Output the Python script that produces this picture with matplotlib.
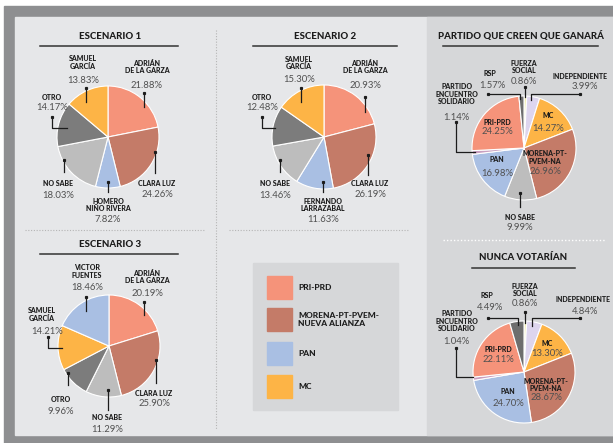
import matplotlib.pyplot as plt
from matplotlib.patches import Rectangle

# Datos
esc1_nombres = ["ADRIÁN\nDE LA GARZA", "CLARA LUZ", "HOMERO\nNIÑO RIVERA", "NO SABE", "OTRO", "SAMUEL\nGARCÍA"]
esc1_valores = [21.88, 24.26, 7.82, 18.03, 14.17, 13.83]

esc2_nombres = ["ADRIÁN\nDE LA GARZA", "CLARA LUZ", "FERNANDO\nLARRAZABAL", "NO SABE", "OTRO", "SAMUEL\nGARCÍA"]
esc2_valores = [20.93, 26.19, 11.63, 13.46, 12.48, 15.30]

esc3_nombres = ["ADRIÁN\nDE LA GARZA", "CLARA LUZ", "NO SABE", "OTRO", "SAMUEL\nGARCÍA", "VICTOR\nFUENTES"]
esc3_valores = [20.19, 25.90, 11.29, 9.96, 14.21, 18.46]

ganara_nombres = ["FUERZA\nSOCIAL", "INDEPENDIENTE", "MC", "MORENA-PT-\nPVEM-NA", "NO SABE", "PAN",
                  "PARTIDO\nENCUENTRO\nSOLIDARIO", "PRI-PRD", "RSP"]
ganara_valores = [0.86, 3.99, 14.27, 26.96, 9.99, 16.98, 1.14, 24.25, 1.57]

nunca_nombres = ["FUERZA\nSOCIAL", "INDEPENDIENTE", "MC", "MORENA-PT-\nPVEM-NA", "PAN",
                 "PARTIDO\nENCUENTRO\nSOLIDARIO", "PRI-PRD", "RSP"]
nunca_valores = [0.86, 4.84, 13.30, 28.67, 24.70, 1.04, 22.11, 4.49]

leyenda_nombres = ["PRI-PRD", "MORENA-PT-PVEM-\nNUEVA ALIANZA", "PAN", "MC"]

# Colores
SALMON = "#f5937a"
CAFE = "#c47b68"
AZUL = "#a9bfe3"
NARANJA = "#fdb446"
GRIS_CLARO = "#bdbdbd"
GRIS_OSC = "#7c7c7c"
AMARILLO = "#f2efb5"
LAVANDA = "#ddd5ee"
ROSA = "#c9a0c0"
GRIS_RSP = "#6e6e6e"

esc1_colores = [SALMON, CAFE, AZUL, GRIS_CLARO, GRIS_OSC, NARANJA]
esc2_colores = [SALMON, CAFE, AZUL, GRIS_CLARO, GRIS_OSC, NARANJA]
esc3_colores = [SALMON, CAFE, GRIS_CLARO, GRIS_OSC, NARANJA, AZUL]
ganara_colores = [AMARILLO, LAVANDA, NARANJA, CAFE, GRIS_CLARO, AZUL, ROSA, SALMON, GRIS_RSP]
nunca_colores = [AMARILLO, LAVANDA, NARANJA, CAFE, AZUL, ROSA, SALMON, GRIS_RSP]
leyenda_colores = [SALMON, CAFE, AZUL, NARANJA]

W, H = 613, 443
fig = plt.figure(figsize=(W / 100, H / 100), dpi=100, facecolor="white")

FUENTE = "Lato"
NEGRO = "#1c1c1c"
GRIS_TXT = "#505050"

# Fondo
bg = fig.add_axes([0, 0, 1, 1], zorder=0)
bg.set_xlim(0, W)
bg.set_ylim(H, 0)
bg.axis("off")
bg.add_patch(Rectangle((4, 6), W - 4, H - 6, color="#8e8f91"))
bg.add_patch(Rectangle((15, 17), W - 15, 418, color="#e6e7e9"))
bg.add_patch(Rectangle((427, 17), W - 427, 418, color="#d6d7d9"))
bg.plot([216, 216], [30, 430], ls=(0, (1, 1.5)), color="#b5b5b5", lw=0.8)
bg.plot([25, 205], [230, 230], ls=(0, (1, 1.5)), color="#b5b5b5", lw=0.8)
bg.plot([229, 408], [230, 230], ls=(0, (1, 1.5)), color="#b5b5b5", lw=0.8)
bg.plot([443, 605], [240, 240], ls=(0, (1, 1.5)), color="white", lw=1)


def pastel(cx, cy, r, valores, colores):
    ax = fig.add_axes([(cx - r) / W, 1 - (cy + r) / H, 2 * r / W, 2 * r / H], zorder=1)
    ax.pie(valores, colors=colores, startangle=90, counterclock=False,
           wedgeprops=dict(edgecolor="white", linewidth=0.8))
    ax.set_xlim(-1, 1)
    ax.set_ylim(-1, 1)
    return ax


pastel(108, 137, 51, esc1_valores, esc1_colores)
pastel(324, 137, 52, esc2_valores, esc2_colores)
pastel(109, 346, 51, esc3_valores, esc3_colores)
pastel(524, 148, 52, ganara_valores, ganara_colores)
pastel(524, 372, 51, nunca_valores, nunca_colores)

# Capa de textos y líneas
ov = fig.add_axes([0, 0, 1, 1], zorder=2)
ov.set_xlim(0, W)
ov.set_ylim(H, 0)
ov.axis("off")


def titulo(txt, x, y, x0, x1):
    ov.text(x, y, txt, ha="center", va="center", fontsize=6.9, fontweight="black",
            family=FUENTE, color=NEGRO)
    ov.plot([x0, x1], [y + 10, y + 10], color="#333333", lw=1.1)


titulo("ESCENARIO 1", 110, 36, 40, 178)
titulo("ESCENARIO 2", 325, 36, 253, 397)
titulo("ESCENARIO 3", 110, 244, 40, 178)
titulo("PARTIDO QUE CREEN QUE GANARÁ", 521, 36, 443, 598)
titulo("NUNCA VOTARÍAN", 523, 258, 472, 575)


def etiquetas(nombres, valores, posiciones, guias):
    for nom, val, (x, yn, yp, xp), guia in zip(nombres, valores, posiciones, guias):
        ov.text(x, yn, nom, ha="center", va="center", fontsize=5, fontweight="black",
                family=FUENTE, color=NEGRO, linespacing=1.05)
        ov.text(xp, yp, f"{val:.2f}%", ha="center", va="center", fontsize=6.8,
                family=FUENTE, color=GRIS_TXT)
        if guia:
            xs, ys = zip(*guia)
            ov.plot(xs, ys, color=NEGRO, lw=0.9)
            ov.plot(xs[0], ys[0], "s", color=NEGRO, ms=1.3)


# (x nombre, y nombre, y porcentaje, x porcentaje)
esc1_pos = [(147, 67, 85, 147), (157, 183, 194, 157), (108, 205, 219, 108),
            (58, 183, 195, 58), (52, 97, 107, 52), (83, 62.5, 80, 83)]
esc1_guias = [[(144, 93), (144, 107)], [(155, 152), (155, 173)], [(108, 182), (108, 192)],
              [(64, 160), (64, 172)], [(52, 117), (52, 128), (67, 128)], [(86, 88), (86, 102)]]
etiquetas(esc1_nombres, esc1_valores, esc1_pos, esc1_guias)

esc2_pos = [(365, 67, 85, 365), (370, 183, 194, 370), (323, 205, 219, 323),
            (275, 183, 195, 275), (262, 97, 107, 262), (299, 63, 79, 299)]
esc2_guias = [[(365, 97), (365, 112)], [(368, 155), (368, 175)], [(323, 182), (323, 192)],
              [(280, 160), (280, 172)], [(262, 117), (262, 128), (275, 128)], [(301, 88), (301, 102)]]
etiquetas(esc2_nombres, esc2_valores, esc2_pos, esc2_guias)

esc3_pos = [(147, 277, 294, 147), (154, 393, 403, 154), (107, 417, 429, 107),
            (61, 399, 411, 61), (42, 314.5, 331, 47), (87, 271.5, 287, 87)]
esc3_guias = [[(144, 302), (144, 315)], [(156, 360), (156, 383)], [(108, 390), (108, 410)],
              [(68, 373), (68, 385)], [(48, 337), (48, 348), (62, 348)], [(86, 297), (86, 311)]]
etiquetas(esc3_nombres, esc3_valores, esc3_pos, esc3_guias)

ganara_pos = [(524, 67, 81, 524), (580, 76, 86, 585), (548, 115, 128, 548),
              (545, 157.5, 172, 545), (520, 217, 227, 520), (497, 160, 173, 497),
              (457, 94, 117, 456), (497, 122, 132, 497), (490, 73, 85, 492)]
ganara_guias = [[(525, 87), (525, 97)], [(580, 94), (531, 94), (531, 100)], None,
                None, [(520, 193), (520, 207)], None,
                [(456, 122), (456, 152), (475, 152)], None, [(488, 94), (520, 94), (520, 99)]]
etiquetas(ganara_nombres, ganara_valores, ganara_pos, ganara_guias)

nunca_pos = [(525, 290, 303, 525), (583, 300, 311, 585), (547, 343, 353, 547),
             (546, 385, 398, 546), (508, 391, 403, 508), (457, 321, 341, 456),
             (498, 349, 359, 498), (487, 296, 308, 490)]
nunca_guias = [[(525, 312), (525, 323)], [(580, 318), (532, 318), (532, 326)], None,
               None, None, [(456, 348), (456, 377), (473, 377)],
               None, [(488, 318), (518, 318), (518, 325)]]
etiquetas(nunca_nombres, nunca_valores, nunca_pos, nunca_guias)

# Leyenda
ov.add_patch(Rectangle((253, 263), 145, 147, color="#d6d7d9"))
ley_y = [276, 308, 342, 375]
for nom, col, y in zip(leyenda_nombres, leyenda_colores, ley_y):
    ov.add_patch(Rectangle((267, y), 25, 23, color=col))
    ov.text(298, y + 11.5, nom, ha="left", va="center", fontsize=6, fontweight="black",
            family=FUENTE, color=NEGRO, linespacing=1.0)

fig.savefig("out.png", dpi=100, facecolor="white")
